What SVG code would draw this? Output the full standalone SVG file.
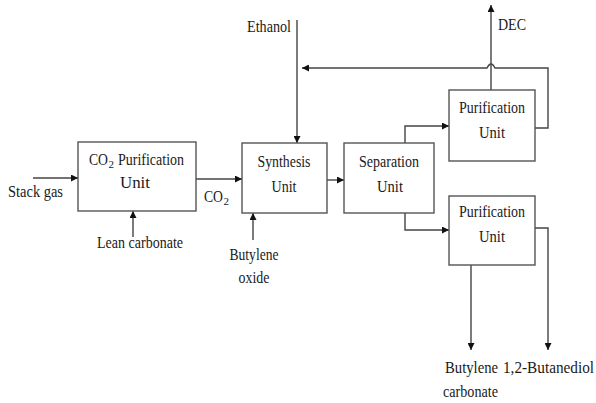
<svg xmlns="http://www.w3.org/2000/svg" width="596" height="403" viewBox="0 0 596 403">
<defs>
<style>
.box{fill:#fff;stroke:#555;stroke-width:1.4}
.ln{fill:none;stroke:#444;stroke-width:1.4}
.ar{marker-end:url(#ah)}
.t text{font-family:'Liberation Serif','Times New Roman','DejaVu Serif',serif;font-size:17.5px;fill:#1a1a1a}
.t text.sub{font-size:11px}
.c{text-anchor:middle}
.e{text-anchor:end}
</style>
<marker id="ah" viewBox="0 0 10 10" refX="10" refY="5" markerWidth="8" markerHeight="7" markerUnits="userSpaceOnUse" orient="auto">
<path d="M0,0 L10,5 L0,10 z" fill="#111"/>
</marker>
</defs>
<rect width="596" height="403" fill="#fff"/>

<g id="connectors">
<line class="ln ar" x1="33" y1="178" x2="78" y2="178"/>
<line class="ln ar" x1="196" y1="179" x2="242" y2="179"/>
<line class="ln ar" x1="133" y1="237" x2="133" y2="211"/>
<line class="ln ar" x1="297" y1="20" x2="297" y2="143"/>
<line class="ln ar" x1="327" y1="180" x2="344" y2="180"/>
<line class="ln ar" x1="253" y1="240" x2="253" y2="213"/>
<polyline class="ln ar" points="405,143 405,126 449,126"/>
<polyline class="ln ar" points="405,213 405,230 449,230"/>
<line class="ln ar" x1="491" y1="90" x2="491" y2="5"/>
<path class="ln ar" d="M535,128 H548 V68 H495 Q491,60 487,68 H302"/>
<polyline class="ln ar" points="535,228 548,228 548,350"/>
<line class="ln ar" x1="471" y1="265" x2="471" y2="350"/>
</g>

<g class="t" font-family="Liberation Serif, Times New Roman, serif">
<g id="co2-purification">
<rect class="box" x="78" y="142" width="118" height="69"/>
<text x="89" y="165" textLength="19" lengthAdjust="spacingAndGlyphs">CO</text>
<text class="sub" x="108.5" y="168">2</text>
<text x="118" y="165" textLength="66" lengthAdjust="spacingAndGlyphs">Purification</text>
<text class="c" x="135" y="188" textLength="30" lengthAdjust="spacingAndGlyphs">Unit</text>
</g>

<g id="stack-gas"><text x="8" y="197" textLength="55" lengthAdjust="spacingAndGlyphs">Stack gas</text></g>
<g id="co2-label">
<text x="204" y="202" textLength="19" lengthAdjust="spacingAndGlyphs">CO</text>
<text class="sub" x="223.5" y="205">2</text>
</g>
<g id="lean-carbonate"><text class="c" x="140" y="248" textLength="86" lengthAdjust="spacingAndGlyphs">Lean carbonate</text></g>

<g id="synthesis">
<rect class="box" x="242" y="143" width="85" height="70"/>
<text class="c" x="284" y="167" textLength="53" lengthAdjust="spacingAndGlyphs">Synthesis</text>
<text class="c" x="284" y="192" textLength="25" lengthAdjust="spacingAndGlyphs">Unit</text>
</g>

<g id="ethanol"><text x="247" y="32" textLength="44" lengthAdjust="spacingAndGlyphs">Ethanol</text></g>
<g id="butylene-oxide">
<text class="c" x="254" y="260" textLength="49" lengthAdjust="spacingAndGlyphs">Butylene</text>
<text class="c" x="254" y="283" textLength="31" lengthAdjust="spacingAndGlyphs">oxide</text>
</g>

<g id="separation">
<rect class="box" x="344" y="143" width="90" height="70"/>
<text class="c" x="389" y="167" textLength="60" lengthAdjust="spacingAndGlyphs">Separation</text>
<text class="c" x="390" y="192" textLength="26" lengthAdjust="spacingAndGlyphs">Unit</text>
</g>

<g id="purification-top">
<rect class="box" x="449" y="90" width="86" height="71"/>
<text class="c" x="492" y="113" textLength="66" lengthAdjust="spacingAndGlyphs">Purification</text>
<text class="c" x="492" y="138" textLength="26" lengthAdjust="spacingAndGlyphs">Unit</text>
</g>

<g id="purification-bottom">
<rect class="box" x="449" y="196" width="86" height="69"/>
<text class="c" x="492" y="217" textLength="66" lengthAdjust="spacingAndGlyphs">Purification</text>
<text class="c" x="492" y="242" textLength="26" lengthAdjust="spacingAndGlyphs">Unit</text>
</g>

<g id="dec"><text x="498" y="30" textLength="28" lengthAdjust="spacingAndGlyphs">DEC</text></g>
<g id="butylene-carbonate">
<text x="445" y="373" textLength="53" lengthAdjust="spacingAndGlyphs">Butylene</text>
<text x="443" y="397" textLength="55" lengthAdjust="spacingAndGlyphs">carbonate</text>
</g>
<g id="butanediol"><text class="e" x="594" y="373" textLength="91" lengthAdjust="spacingAndGlyphs">1,2-Butanediol</text></g>
</g>
</svg>
